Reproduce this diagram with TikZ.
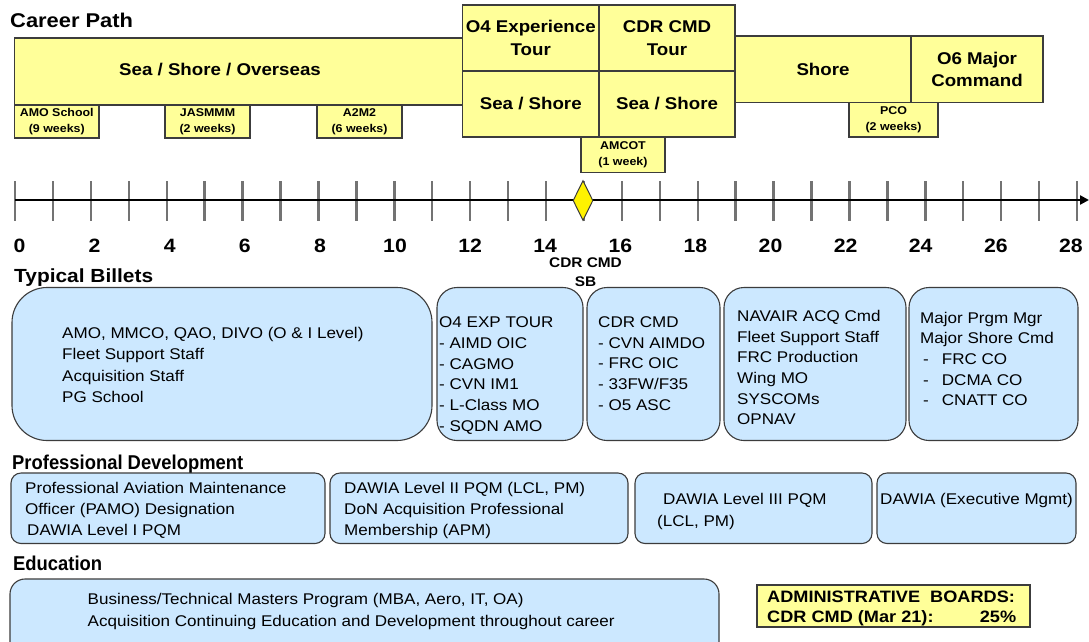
\documentclass[tikz,border=0pt]{standalone}
\usepackage{fontspec}
\setmainfont{Liberation Sans}[FakeStretch=1.1]
\newfontfamily\narrowfont{Liberation Sans}[FakeStretch=0.92]
\usetikzlibrary{shapes.geometric,arrows.meta}
\definecolor{ylw}{RGB}{255,255,153}
\definecolor{blu}{RGB}{204,232,255}
\definecolor{edgec}{RGB}{60,60,60}
\definecolor{tickc}{RGB}{115,115,115}
\begin{document}
\begin{tikzpicture}[x=1pt,y=-1pt,
  ybox/.style={draw=edgec, fill=ylw, line width=1.2pt, inner sep=0pt, align=center,
    font=\bfseries\fontsize{17}{22.7}\selectfont},
  sbox/.style={ybox, font=\bfseries\fontsize{11.3}{15.7}\selectfont},
  bbox/.style={draw=edgec, fill=blu, line width=1.1pt, inner sep=0pt},
  body/.style={inner sep=0pt, anchor=west, align=left, font=\fontsize{15.5}{20.7}\selectfont},
  sectitle/.style={inner sep=0pt, anchor=base west, font=\bfseries\fontsize{19.5}{22}\selectfont},
  narrowtitle/.style={inner sep=0pt, anchor=base west, font=\narrowfont\bfseries\fontsize{20}{22}\selectfont},
  num/.style={inner sep=0pt, font=\bfseries\fontsize{19.3}{22}\selectfont},
]
\clip (0,0) rectangle (1089,641);
\fill[white] (0,0) rectangle (1089,641);

% ---------- titles ----------
\node[sectitle, font=\bfseries\fontsize{19.9}{22}\selectfont] (tcp) at (10,27) {Career Path};
\node[sectitle, font=\bfseries\fontsize{19}{22}\selectfont] (ttb) at (14,282) {Typical Billets};
\node[narrowtitle] (tpd) at (12,469) {Professional Development};
\node[narrowtitle] (ted) at (13,570) {Education};

% ---------- career path boxes ----------
\node[ybox, minimum width=448pt, minimum height=67pt] (sso) at (238.5,71.5) {};
\node[inner sep=0pt, font=\bfseries\fontsize{17}{22.7}\selectfont] (ssot) at (220,70) {Sea / Shore / Overseas};
\node[sbox, minimum width=84.5pt, minimum height=33pt] (amo) at (56.75,121.5) {AMO School\\(9 weeks)};
\node[sbox, minimum width=85pt, minimum height=33pt] (jas) at (207.5,121.5) {JASMMM\\(2 weeks)};
\node[sbox, minimum width=85pt, minimum height=33pt] (a2m2) at (359.5,121.5) {A2M2\\(6 weeks)};

\node[ybox, minimum width=136.5pt, minimum height=66pt] (o4) at (530.75,38) {O4 Experience\\Tour};
\node[ybox, minimum width=136.5pt, minimum height=66pt] (o4ss) at (530.75,104) {Sea / Shore};
\node[ybox, minimum width=136pt, minimum height=66pt] (cdr) at (667,38) {CDR CMD\\Tour};
\node[ybox, minimum width=136pt, minimum height=66pt] (cdrss) at (667,104) {Sea / Shore};
\node[sbox, minimum width=84pt, minimum height=35.5pt] (amcot) at (623,154.75) {AMCOT\\(1 week)};

\node[ybox, minimum width=176pt, minimum height=66.7pt] (shore) at (823,69.35) {Shore};
\node[ybox, minimum width=132pt, minimum height=66.7pt] (o6) at (977,69.35) {O6 Major\\Command};
\node[sbox, minimum width=89pt, minimum height=34.3pt] (pco) at (893.5,119.85) {PCO\\(2 weeks)};

% ---------- timeline ----------
\foreach \k in {0,...,28} {
  \draw[tickc, line width=2.4pt] (15+37.93*\k,181) -- (15+37.93*\k,221);
}
\coordinate (axs) at (15,200);
\coordinate (axe) at (1089,200);
\draw[line width=2.8pt, -{Triangle[length=9pt,width=9pt]}] (axs) -- (axe);
\foreach \k in {0,2,...,28} {
  \node[num] (lab\k) at (19.5+37.55*\k,245.5) {\k};
}
\node[diamond, aspect=0.5, draw=edgec, fill=yellow, line width=1pt, inner sep=0pt,
      minimum width=20pt, minimum height=40pt] (sb) at (583,200.5) {};
\node[inner sep=0pt, align=center, font=\bfseries\fontsize{14}{18.5}\selectfont] (sblab) at (585.5,272) {CDR CMD\\SB};

% ---------- typical billets ----------
\node[bbox, rounded corners=35pt, minimum width=420pt, minimum height=153pt] (b1) at (222,364) {};
\node[bbox, rounded corners=20pt, minimum width=146pt, minimum height=153pt] (b2) at (510,364) {};
\node[bbox, rounded corners=20pt, minimum width=133pt, minimum height=153pt] (b3) at (653.5,364) {};
\node[bbox, rounded corners=20pt, minimum width=182pt, minimum height=153pt] (b4) at (815,364) {};
\node[bbox, rounded corners=20pt, minimum width=169pt, minimum height=153pt] (b5) at (993.5,364) {};

\node[body, font=\fontsize{15.5}{21.3}\selectfont] (b1t) at (62,365) {AMO, MMCO, QAO, DIVO (O \& I Level)\\Fleet Support Staff\\Acquisition Staff\\PG School};
\node[body] (b2t) at (439,375.5) {O4 EXP TOUR\\- AIMD OIC\\- CAGMO\\- CVN IM1\\- L-Class MO\\- SQDN AMO};
\node[body] (b3t) at (598,363.5) {CDR CMD\\- CVN AIMDO\\- FRC OIC\\- 33FW/F35\\- O5 ASC};
\node[body] (b4t) at (737,367.5) {NAVAIR ACQ Cmd\\Fleet Support Staff\\FRC Production\\Wing MO\\SYSCOMs\\OPNAV};
\node[body] (b5t) at (920,359) {Major Prgm Mgr\\Major Shore Cmd\\\hspace*{3pt}-\hspace{13pt}FRC CO\\\hspace*{3pt}-\hspace{13pt}DCMA CO\\\hspace*{3pt}-\hspace{13pt}CNATT CO};

% ---------- professional development ----------
\node[bbox, rounded corners=10pt, minimum width=314pt, minimum height=70.5pt] (pd1) at (168,508.25) {};
\node[bbox, rounded corners=10pt, minimum width=298pt, minimum height=70.5pt] (pd2) at (479,508.25) {};
\node[bbox, rounded corners=10pt, minimum width=237pt, minimum height=70.5pt] (pd3) at (753.5,508.25) {};
\node[bbox, rounded corners=10pt, minimum width=199pt, minimum height=70.5pt] (pd4) at (976.5,508.25) {};

\node[body] (pd1t) at (25,510.5) {Professional Aviation Maintenance\\Officer (PAMO) Designation\\\hspace*{2pt}DAWIA Level I PQM};
\node[body] (pd2t) at (344,510.5) {DAWIA Level II PQM (LCL, PM)\\DoN Acquisition Professional\\Membership (APM)};
\node[body, font=\fontsize{15.5}{22}\selectfont] (pd3t) at (657,511) {\hspace*{6pt}DAWIA Level III PQM\\(LCL, PM)};
\node[body] (pd4t) at (880,500) {DAWIA (Executive Mgmt)};

% ---------- education ----------
\node[bbox, rounded corners=15pt, minimum width=709pt, minimum height=91pt] (ed) at (364.5,624.5) {};
\node[body, font=\fontsize{15.5}{22}\selectfont] (edt) at (87.5,611) {Business/Technical Masters Program (MBA, Aero, IT, OA)\\Acquisition Continuing Education and Development throughout career};

\node[draw=edgec, fill=ylw, line width=1.6pt, minimum width=273pt, minimum height=42pt, inner sep=0pt] (adm) at (893.5,606) {};
\node[inner sep=0pt, anchor=west, align=left, font=\bfseries\fontsize{16.5}{20.5}\selectfont] (admt) at (767,608.5)
  {ADMINISTRATIVE\ \ BOARDS:\\\makebox[249pt][l]{CDR CMD (Mar 21):\hfill 25\%}};
\end{tikzpicture}
\end{document}
